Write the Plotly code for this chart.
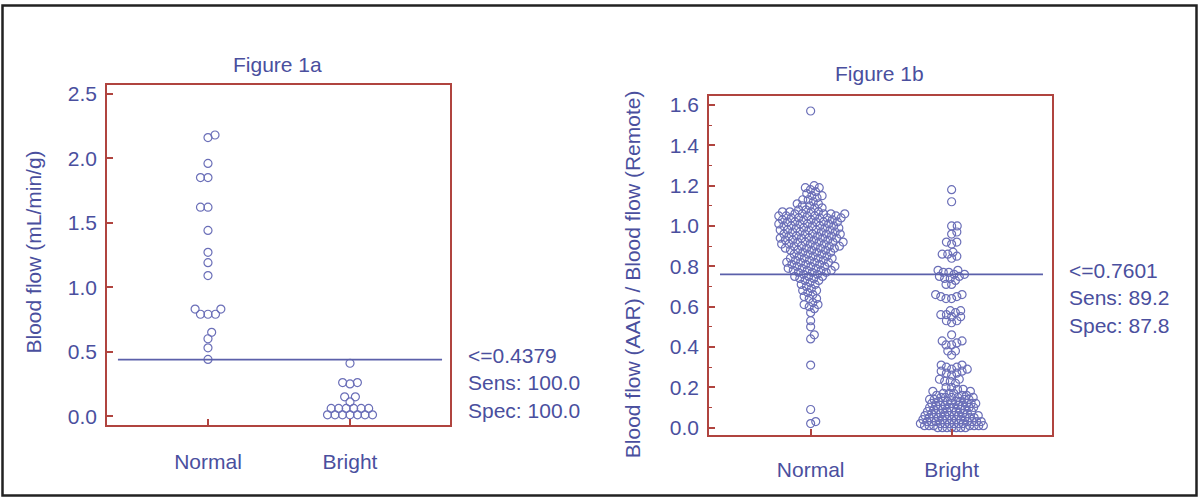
import math
import plotly.graph_objects as go

# ---------------------------------------------------------------- data
categories = ['Normal', 'Bright']

# Figure 1a - blood flow (mL/min/g)
normal_1a = [2.18, 2.16, 1.96, 1.85, 1.85, 1.62, 1.62, 1.44, 1.27, 1.19, 1.09,
             0.83, 0.83, 0.79, 0.79, 0.79, 0.65, 0.60, 0.53, 0.44]
bright_1a = [0.41, 0.26, 0.26, 0.25, 0.15, 0.15, 0.11,
             0.06, 0.06, 0.06, 0.06, 0.06, 0.06,
             0.01, 0.01, 0.01, 0.01, 0.01, 0.01, 0.01]
cutoff_1a = 0.4379
stats_1a = ['<=0.4379', 'Sens: 100.0', 'Spec: 100.0']

# Figure 1b - blood flow ratio AAR / remote
normal_1b = [
    1.57,
    1.20, 1.19, 1.19, 1.18, 1.17, 1.16, 1.15, 1.15, 1.14, 1.13, 1.13, 1.12, 1.11, 1.11,
    1.10, 1.10, 1.09, 1.09, 1.08, 1.08, 1.07, 1.07, 1.07, 1.07, 1.06, 1.06, 1.06, 1.06, 1.06,
    1.05, 1.05, 1.05, 1.05, 1.05, 1.04, 1.04, 1.04, 1.04, 1.04, 1.03, 1.03, 1.03, 1.03,
    1.02, 1.02, 1.02, 1.02, 1.02, 1.01, 1.01, 1.01, 1.01, 1.00, 1.00, 1.00, 1.00, 1.00,
    0.99, 0.99, 0.99, 0.99, 0.98, 0.98, 0.98, 0.98, 0.98, 0.97, 0.97, 0.97, 0.97,
    0.96, 0.96, 0.96, 0.96, 0.96, 0.95, 0.95, 0.95, 0.95, 0.94, 0.94, 0.94, 0.94, 0.94,
    0.93, 0.93, 0.93, 0.93, 0.92, 0.92, 0.92, 0.92, 0.92, 0.91, 0.91, 0.91, 0.91,
    0.90, 0.90, 0.90, 0.90, 0.90, 0.89, 0.89, 0.89, 0.89, 0.88, 0.88, 0.88, 0.88,
    0.87, 0.87, 0.87, 0.86, 0.86, 0.86, 0.85, 0.85, 0.85, 0.84, 0.84, 0.84, 0.84,
    0.83, 0.83, 0.83, 0.82, 0.82, 0.82, 0.82, 0.81, 0.81, 0.81, 0.80, 0.80, 0.80, 0.80,
    0.79, 0.79, 0.79, 0.78, 0.78, 0.78, 0.78, 0.77, 0.77, 0.77, 0.76, 0.76,
    0.75, 0.75, 0.75, 0.74, 0.74, 0.73, 0.73, 0.72, 0.71, 0.71, 0.70, 0.69, 0.68, 0.68,
    0.67, 0.66, 0.65, 0.64, 0.64, 0.62, 0.61, 0.61, 0.60, 0.59, 0.57, 0.53, 0.50, 0.46, 0.44,
    0.31, 0.09, 0.03, 0.02,
]
bright_1b = [
    1.18, 1.12, 1.00, 1.00, 0.97, 0.96, 0.92, 0.92, 0.91, 0.87, 0.86, 0.86, 0.85, 0.84,
    0.78, 0.78, 0.77, 0.77, 0.76, 0.76, 0.75, 0.75, 0.74, 0.74, 0.73, 0.71, 0.71,
    0.66, 0.66, 0.65, 0.65, 0.64, 0.64, 0.58, 0.58, 0.57, 0.56, 0.56, 0.55, 0.55,
    0.53, 0.53, 0.52, 0.46, 0.43, 0.43, 0.42, 0.41, 0.41, 0.38, 0.38, 0.36,
    0.31, 0.31, 0.30, 0.30, 0.29, 0.29, 0.28, 0.28, 0.27, 0.27, 0.26,
    0.24, 0.24, 0.23, 0.23, 0.22, 0.20, 0.20, 0.19, 0.19, 0.18, 0.18,
    0.17, 0.17, 0.17, 0.16, 0.16, 0.16,
    0.15, 0.15, 0.15, 0.15, 0.15, 0.14, 0.14, 0.14, 0.14,
    0.13, 0.13, 0.13, 0.13, 0.13, 0.12, 0.12, 0.12, 0.12, 0.12,
    0.11, 0.11, 0.11, 0.11, 0.11, 0.10, 0.10, 0.10, 0.10, 0.10,
    0.09, 0.09, 0.09, 0.09, 0.09, 0.08, 0.08, 0.08, 0.08, 0.08,
    0.07, 0.07, 0.07, 0.07, 0.07, 0.06, 0.06, 0.06, 0.06, 0.06, 0.06,
    0.05, 0.05, 0.05, 0.05, 0.05, 0.05, 0.04, 0.04, 0.04, 0.04, 0.04, 0.04,
    0.03, 0.03, 0.03, 0.03, 0.03, 0.03, 0.03, 0.02, 0.02, 0.02, 0.02, 0.02, 0.02, 0.02,
    0.01, 0.01, 0.01, 0.01, 0.01, 0.01, 0.01, 0.00, 0.00, 0.00, 0.00, 0.00, 0.00, 0.00,
]
cutoff_1b = 0.7601
stats_1b = ['<=0.7601', 'Sens: 89.2', 'Spec: 87.8']

# ---------------------------------------------------------------- style
W, H = 1200, 503
TEXT = '#4a4f9e'
MARK = '#6b6fb8'
LINE = '#5b60aa'
BOX = '#b0443f'
FONT = 'Liberation Sans, Arial, sans-serif'
FS = 21

# plot boxes in pixels (left, top, right, bottom)
box_a = (107, 83, 450, 428)
box_b = (709, 94, 1052, 438)
xr_a, yr_a = [-0.711, 1.704], [-0.069, 2.569]
xr_b, yr_b = [-0.721, 1.712], [-0.036, 1.646]


def swarm(values, px_x, px_y, diam, dense_below=None, dense_diam=None):
    '''simple beeswarm: x offsets (data units) so circles don't overlap.
    points below dense_below are packed tighter (dense_diam), like the original'''
    order = sorted(range(len(values)), key=lambda i: values[i])
    placed = []
    out = [0.0] * len(values)
    flip = 1
    for i in order:
        d = diam
        if dense_below is not None and values[i] < dense_below:
            d = dense_diam
        y = values[i] * px_y
        near = [(px, py) for px, py in placed if abs(py - y) < d]
        cands = [0.0]
        for px, py in near:
            dx = math.sqrt(d ** 2 - (py - y) ** 2)
            cands += [px + dx, px - dx]
        cands.sort(key=lambda c: (round(abs(c), 6), flip * c))
        for c in cands:
            if all((c - px) ** 2 + (py - y) ** 2 >= d ** 2 - 1e-6 for px, py in near):
                break
        flip = -flip
        placed.append((c, y))
        out[i] = c / px_x
    return out


def scales(box, xr, yr):
    return ((box[2] - box[0]) / (xr[1] - xr[0]), (box[3] - box[1]) / (yr[1] - yr[0]))


fig = go.Figure()

panels = [
    (normal_1a, bright_1a, box_a, xr_a, yr_a, [(7.5, None, None), (7.5, None, None)], 'x', 'y'),
    (normal_1b, bright_1b, box_b, xr_b, yr_b, [(5.5, None, None), (5.6, 0.175, 4.6)], 'x2', 'y2'),
]
for (vals_n, vals_b, box, xr, yr, packing, xa, ya) in panels:
    sx, sy = scales(box, xr, yr)
    for k, vals in enumerate([vals_n, vals_b]):
        off = swarm(vals, sx, sy, *packing[k])
        fig.add_trace(go.Scatter(
            x=[k + o for o in off], y=vals, mode='markers', xaxis=xa, yaxis=ya,
            marker=dict(symbol='circle-open', size=8, color=MARK, line=dict(width=1.2, color=MARK)),
            showlegend=False, hoverinfo='y'))

# cut-off lines
fig.add_shape(type='line', xref='x', yref='y', x0=-0.634, x1=1.648, y0=cutoff_1a, y1=cutoff_1a,
              line=dict(color=LINE, width=1.6))
fig.add_shape(type='line', xref='x2', yref='y2', x0=-0.643, x1=1.648, y0=cutoff_1b, y1=cutoff_1b,
              line=dict(color=LINE, width=1.6))

# outer frame
fig.add_shape(type='rect', xref='paper', yref='paper', x0=2.5 / W, x1=1 - 3.5 / W, y0=3.5 / H, y1=1 - 2.5 / H,
              line=dict(color='#222222', width=2.5))


def dom(box):
    return [box[0] / W, box[2] / W], [1 - box[3] / H, 1 - box[1] / H]


axis_common = dict(showline=True, mirror=True, linecolor=BOX, linewidth=1.5, showgrid=False, zeroline=False,
                   ticks='inside', tickcolor=BOX, tickwidth=1.5, ticklen=6,
                   tickfont=dict(family=FONT, size=FS, color=TEXT))

dxa, dya = dom(box_a)
dxb, dyb = dom(box_b)
fig.update_layout(
    width=W, height=H, margin=dict(l=0, r=0, t=0, b=0),
    paper_bgcolor='white', plot_bgcolor='white',
    xaxis=dict(domain=dxa, range=xr_a, tickvals=[0, 1], ticktext=categories, anchor='y',
               ticklabelstandoff=17, **axis_common),
    yaxis=dict(domain=dya, range=yr_a, tickvals=[0, 0.5, 1.0, 1.5, 2.0, 2.5], tickformat='.1f', anchor='x',
               ticklabelstandoff=4, **axis_common),
    xaxis2=dict(domain=dxb, range=xr_b, tickvals=[0, 1], ticktext=categories, anchor='y2',
                ticklabelstandoff=15, **axis_common),
    yaxis2=dict(domain=dyb, range=yr_b, tickvals=[0, 0.2, 0.4, 0.6, 0.8, 1.0, 1.2, 1.4, 1.6], tickformat='.1f',
                anchor='x2', ticklabelstandoff=4,
                minor=dict(dtick=0.1, ticks='inside', ticklen=3, tickcolor=BOX, tickwidth=1.2),
                **axis_common),
)

ann_font = dict(family=FONT, size=FS, color=TEXT)
ann_common = dict(xref='paper', yref='paper', showarrow=False, font=ann_font)
fig.add_annotation(text='Figure 1a', x=277 / W, y=1 - 62 / H, xanchor='center', yanchor='middle', **ann_common)
fig.add_annotation(text='Figure 1b', x=880 / W, y=1 - 72 / H, xanchor='center', yanchor='middle', **ann_common)
fig.add_annotation(text='Blood flow (mL/min/g)', x=33 / W, y=1 - 253 / H, xanchor='center', yanchor='middle',
                   textangle=-90, **ann_common)
fig.add_annotation(text='Blood flow (AAR) / Blood flow (Remote)', x=632 / W, y=1 - 275 / H, xanchor='center',
                   yanchor='middle', textangle=-90, **ann_common)
fig.add_annotation(text='<br>'.join(stats_1a).replace('<=', '&lt;='), x=466 / W, y=1 - 385 / H,
                   xanchor='left', yanchor='middle', align='left', **ann_common)
fig.add_annotation(text='<br>'.join(stats_1b).replace('<=', '&lt;='), x=1067 / W, y=1 - 299 / H,
                   xanchor='left', yanchor='middle', align='left', **ann_common)

fig.write_html('out.html', config={'displayModeBar': False},
               post_script="document.body.style.margin='0px';")
